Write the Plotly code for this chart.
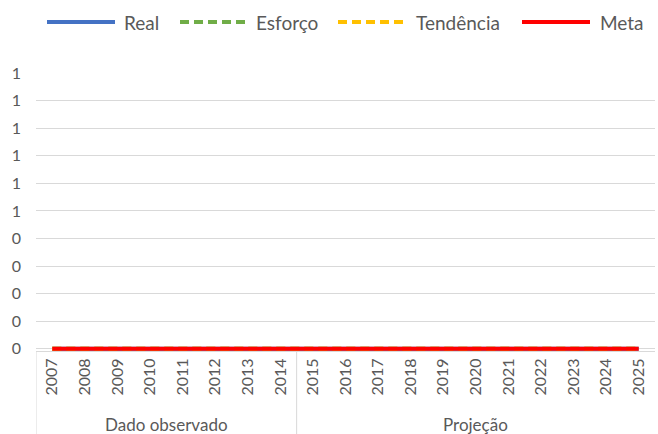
import plotly.graph_objects as go

years = [str(y) for y in range(2007, 2026)]
groups = ["Dado observado", "Projeção"]
group_sizes = [8, 11]

real = [0] * 19
esforco = [0] * 19
tendencia = [0] * 19
meta = [0] * 19

y_ticks = [0, 0.1, 0.2, 0.3, 0.4, 0.5, 0.6, 0.7, 0.8, 0.9, 1.0]
y_labels = ["0", "0", "0", "0", "0", "1", "1", "1", "1", "1", "1"]

series = [
    ("Real", real, "#4472C4", None),
    ("Esforço", esforco, "#70AD47", "9px,5px"),
    ("Tendência", tendencia, "#FFC000", "9px,5px"),
    ("Meta", meta, "#FF0000", None),
]

FONT = "Lato"
GRAY = "#595959"
GRID = "#d9d9d9"

W, H = 658, 434
L, R, T, B = 36, 3, 73, 83
pw, ph = W - L - R, H - T - B


def px_x(p):
    return (p - L) / pw


def px_y(p):
    return (H - B - p) / ph


x = list(range(len(years)))

fig = go.Figure()
for name, vals, color, dash in series:
    fig.add_trace(go.Scatter(x=x, y=vals, mode="lines", name=name,
                             line=dict(color=color, width=4, dash=dash)))

shapes = []
annotations = []

# group dividers and labels below the year ticks
start = 0
for g, n in zip(groups, group_sizes):
    shapes.append(dict(type="line", xref="x", yref="paper",
                       x0=start - 0.5, x1=start - 0.5, y0=0, y1=px_y(H),
                       line=dict(color=GRID, width=1)))
    annotations.append(dict(text=g, xref="x", yref="paper",
                            x=start + (n - 1) / 2, y=px_y(424),
                            showarrow=False, yanchor="middle",
                            font=dict(family=FONT, size=17, color=GRAY)))
    start += n

# legend drawn by hand so the line samples are as long as in the original
leg_pos = [(47, 122), (180, 254), (338, 414), (522, 598)]
ly = px_y(22)
for (name, _, color, dash), (lx, tx) in zip(series, leg_pos):
    shapes.append(dict(type="line", xref="paper", yref="paper",
                       x0=px_x(lx), x1=px_x(lx + 68), y0=ly, y1=ly,
                       line=dict(color=color, width=4, dash=dash)))
    annotations.append(dict(text=name, xref="paper", yref="paper",
                            x=px_x(tx), y=ly, xanchor="left", yanchor="middle",
                            showarrow=False,
                            font=dict(family=FONT, size=19, color=GRAY)))

fig.update_layout(
    width=W, height=H,
    margin=dict(l=L, r=R, t=T, b=B),
    plot_bgcolor="white", paper_bgcolor="white",
    font=dict(family=FONT, size=16, color=GRAY),
    showlegend=False,
    shapes=shapes,
    annotations=annotations,
)
fig.update_xaxes(range=[-0.5, len(years) - 0.5], tickvals=x, ticktext=years,
                 tickangle=-90, showgrid=False, showline=True, linecolor=GRID,
                 ticks="", zeroline=False, automargin=False,
                 tickfont=dict(family=FONT, size=16, color=GRAY))
fig.update_yaxes(range=[-0.008, 1.0], tickvals=y_ticks, ticktext=y_labels,
                 showgrid=True, gridcolor=GRID, zeroline=False, showline=False,
                 ticks="", automargin=False, ticklabelstandoff=14,
                 tickfont=dict(family=FONT, size=16, color=GRAY))

# drop the browser's default 8px body margin so the figure fills the window
fig.write_html("out.html", config={"displayModeBar": False},
               post_script="document.body.style.margin='0';")
